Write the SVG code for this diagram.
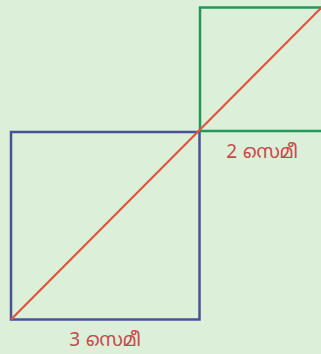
<svg xmlns="http://www.w3.org/2000/svg" width="321" height="354" viewBox="0 0 321 354">
<style>
.lbl{font-family:"Noto Sans Malayalam","Noto Sans","DejaVu Sans",sans-serif;font-size:19px;fill:#c9484c;text-anchor:middle}
</style>
<rect x="0" y="0" width="321" height="354" fill="#dcefd8"/>
<g id="blue-square"><rect x="11" y="132" width="188.5" height="187.5" fill="none" stroke="#4a5296" stroke-width="2.5"/></g>
<g id="green-square"><rect x="200" y="7.5" width="124" height="123.5" fill="none" stroke="#23985a" stroke-width="2.5"/></g>
<g id="connectors"><line x1="11" y1="319.5" x2="322" y2="7" stroke="#e2533e" stroke-width="2.2"/></g>
<g id="label-2"><text class="lbl" x="262" y="158">2 സെമീ</text></g>
<g id="label-3"><text class="lbl" x="105" y="346">3 സെമീ</text></g>
</svg>
